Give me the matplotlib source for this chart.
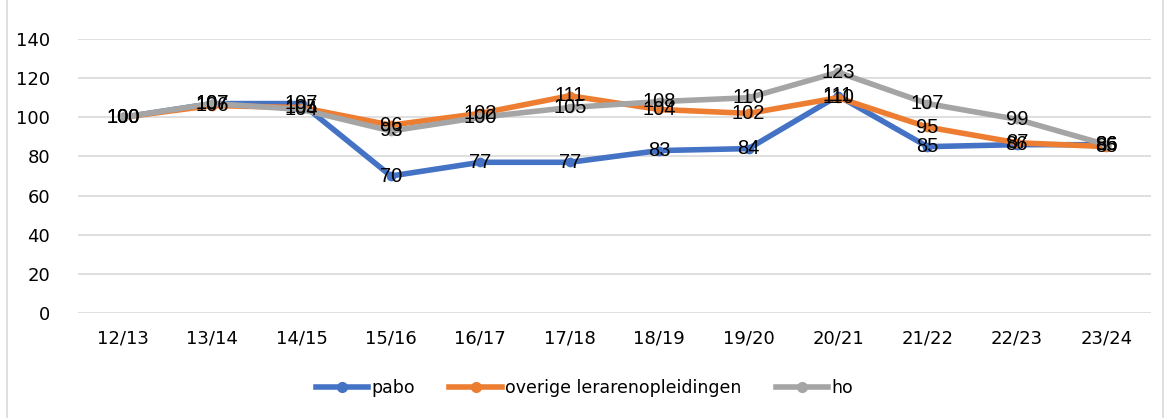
import matplotlib
matplotlib.use("Agg")
import matplotlib.pyplot as plt
from matplotlib.lines import Line2D

categories = ["12/13", "13/14", "14/15", "15/16", "16/17", "17/18",
              "18/19", "19/20", "20/21", "21/22", "22/23", "23/24"]
pabo = [100, 107, 107, 70, 77, 77, 83, 84, 111, 85, 86, 86]
overige = [100, 106, 105, 96, 102, 111, 104, 102, 110, 95, 87, 85]
ho = [100, 107, 104, 93, 100, 105, 108, 110, 123, 107, 99, 86]
series_names = ["pabo", "overige lerarenopleidingen", "ho"]
colors = ["#4472C4", "#ED7D31", "#A5A5A5"]
yticks = [0, 20, 40, 60, 80, 100, 120, 140]

fig = plt.figure(figsize=(11.69, 4.18), dpi=100)
ax = fig.add_axes([78/1169, 1 - 313/418, (1151-78)/1169, (313-39)/418])

x = list(range(len(categories)))
for vals, name, c in zip([pabo, overige, ho], series_names, colors):
    ax.plot(x, vals, color=c, lw=4.0, marker="o", markersize=6,
            markerfacecolor=c, markeredgecolor=c, solid_capstyle="round",
            solid_joinstyle="round", label=name, zorder=3)

for vals in [pabo, overige, ho]:
    for xi, v in zip(x, vals):
        ax.text(xi, v, f"{v:g}", ha="center", va="center", fontsize=14.5,
                family="Liberation Sans", color="black", zorder=5)

ax.set_xlim(-0.5, len(categories) - 0.5)
ax.set_ylim(0, 140)
ax.set_yticks(yticks)
ax.set_xticks(x)
ax.set_xticklabels(categories)
ax.grid(axis="y", color="#D9D9D9", lw=1.2, zorder=0)
for s in ax.spines.values():
    s.set_visible(False)
ax.tick_params(axis="both", length=0, labelsize=13, colors="black")
ax.tick_params(axis="x", pad=12)
ax.tick_params(axis="y", pad=20)

handles = [Line2D([0], [0], color=c, lw=4.0, marker="o", markersize=7,
                  markerfacecolor=c, markeredgecolor=c) for c in colors]
fig.legend(handles, series_names, loc="center", bbox_to_anchor=(0.5, 1 - 388/418),
           ncol=3, frameon=False, fontsize=12.5, handlelength=3.0,
           columnspacing=2.0, handletextpad=0.2)

# chart border
fig.add_artist(Line2D([7/1169, 7/1169], [0, 1], color="#D9D9D9", lw=1.2,
                      transform=fig.transFigure))
fig.add_artist(Line2D([1163/1169, 1163/1169], [0, 1], color="#D9D9D9", lw=1.2,
                      transform=fig.transFigure))

fig.savefig("out.png", dpi=100)
